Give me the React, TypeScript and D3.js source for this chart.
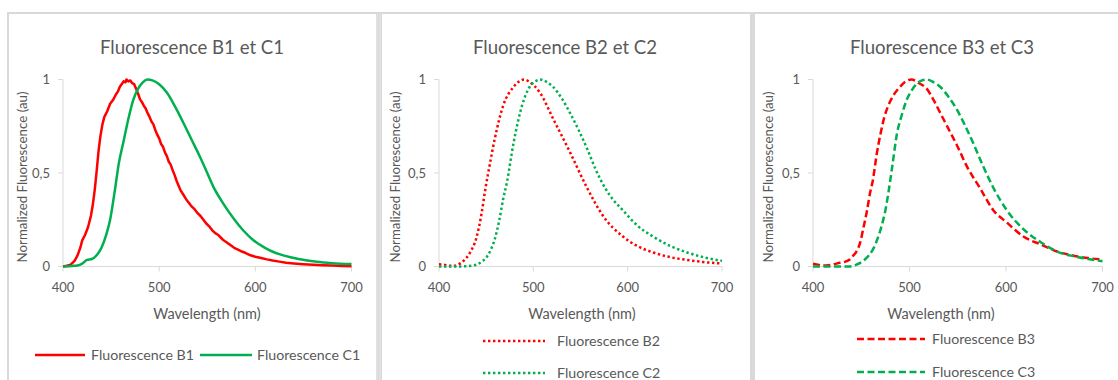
import React from "react";
import * as d3 from "d3";

type Pt = [number, number];

const WAVE_TICKS = [400, 500, 600, 700];
const FLUO_TICKS = [0, 0.5, 1];
const FLUO_TICK_LABELS = ["0", "0,5", "1"];
const X_TITLE = "Wavelength (nm)";
const Y_TITLE = "Normalized Fluorescence (au)";

const TITLES = ["Fluorescence B1 et C1", "Fluorescence B2 et C2", "Fluorescence B3 et C3"];
const SERIES_NAMES = [
  ["Fluorescence B1", "Fluorescence C1"],
  ["Fluorescence B2", "Fluorescence C2"],
  ["Fluorescence B3", "Fluorescence C3"],
];

const B1: Pt[] = [
  [400, 0.0], [404, 0.004], [408, 0.01], [412, 0.03], [415, 0.058], [418, 0.1], [420, 0.14], [423, 0.17],
  [426, 0.21], [429, 0.27], [431, 0.33], [433, 0.41], [435, 0.51], [437, 0.62], [439, 0.7], [441, 0.76],
  [443, 0.8], [446, 0.83], [449, 0.87], [452, 0.89], [455, 0.92], [457, 0.935], [459, 0.96], [461, 0.975],
  [463, 0.99], [465, 0.985], [466, 1.0], [468, 0.99], [470, 0.995], [472, 0.98], [474, 0.975], [476, 0.95],
  [478, 0.925], [480, 0.895], [482, 0.88], [484, 0.86], [486, 0.845], [488, 0.82], [490, 0.8], [492, 0.775],
  [494, 0.76], [496, 0.73], [498, 0.705], [500, 0.685], [502, 0.655], [504, 0.64], [506, 0.61], [508, 0.59],
  [510, 0.56], [512, 0.545], [514, 0.515], [516, 0.49], [518, 0.46], [520, 0.435], [522, 0.41], [525, 0.385],
  [528, 0.36], [531, 0.34], [534, 0.32], [537, 0.305], [540, 0.285], [543, 0.27], [546, 0.25], [549, 0.23],
  [552, 0.215], [555, 0.195], [558, 0.18], [561, 0.17], [564, 0.155], [567, 0.14], [570, 0.13], [574, 0.115],
  [578, 0.1], [582, 0.09], [586, 0.08], [590, 0.072], [595, 0.06], [600, 0.052], [606, 0.045], [612, 0.038],
  [618, 0.032], [625, 0.026], [632, 0.02], [640, 0.016], [650, 0.012], [660, 0.009], [670, 0.007], [680, 0.005],
  [690, 0.003], [700, 0.002],
];

const C1: Pt[] = [
  [400, 0.0], [410, 0.003], [415, 0.005], [420, 0.015], [425, 0.035], [430, 0.04], [435, 0.06], [440, 0.1],
  [445, 0.17], [449, 0.25], [454, 0.41], [458, 0.55], [463, 0.67], [468, 0.79], [473, 0.89], [478, 0.95],
  [483, 0.985], [488, 1.0], [493, 0.995], [500, 0.975], [508, 0.93], [516, 0.86], [525, 0.77], [534, 0.675],
  [543, 0.58], [550, 0.5], [556, 0.43], [565, 0.35], [577, 0.26], [588, 0.19], [598, 0.14], [610, 0.1],
  [620, 0.075], [630, 0.058], [645, 0.04], [664, 0.025], [680, 0.018], [700, 0.013],
];

const B2: Pt[] = [
  [400, 0.012], [405, 0.01], [410, 0.005], [415, 0.003], [420, 0.01], [426, 0.03], [433, 0.075], [440, 0.16],
  [445, 0.28], [449, 0.41], [454, 0.55], [459, 0.68], [468, 0.86], [479, 0.96], [485, 0.99], [490, 1.0],
  [495, 0.99], [507, 0.93], [521, 0.79], [539, 0.61], [557, 0.42], [574, 0.27], [595, 0.16], [610, 0.11],
  [627, 0.075], [645, 0.05], [663, 0.035], [680, 0.024], [700, 0.016],
];

const C2: Pt[] = [
  [400, 0.0], [410, 0.0], [420, 0.0], [430, 0.002], [440, 0.01], [445, 0.025], [450, 0.047], [455, 0.09],
  [459, 0.144], [464, 0.25], [468, 0.36], [472, 0.45], [479, 0.66], [488, 0.86], [496, 0.96], [502, 0.99],
  [507, 1.0], [513, 0.99], [521, 0.96], [530, 0.9], [539, 0.82], [548, 0.73], [557, 0.63], [566, 0.52],
  [576, 0.42], [585, 0.355], [595, 0.3], [610, 0.22], [627, 0.16], [645, 0.11], [663, 0.075], [680, 0.05],
  [700, 0.03],
];

const B3: Pt[] = [
  [400, 0.015], [405, 0.01], [410, 0.005], [414, 0.005], [420, 0.01], [428, 0.02], [433, 0.025], [438, 0.037],
  [442, 0.06], [445, 0.08], [449, 0.13], [452, 0.2], [456, 0.3], [459, 0.39], [462, 0.46], [466, 0.6],
  [470, 0.71], [474, 0.8], [478, 0.86], [484, 0.92], [490, 0.96], [496, 0.99], [502, 1.0], [510, 0.98],
  [518, 0.95], [525, 0.89], [532, 0.82], [540, 0.74], [549, 0.65], [560, 0.53], [573, 0.42], [587, 0.3],
  [601, 0.235], [618, 0.16], [636, 0.118], [653, 0.08], [670, 0.058], [685, 0.045], [700, 0.037],
];

const C3: Pt[] = [
  [400, 0.0], [414, 0.0], [425, 0.0], [438, 0.0], [445, 0.01], [452, 0.03], [458, 0.06], [462, 0.09],
  [467, 0.15], [471, 0.215], [475, 0.3], [478, 0.39], [482, 0.53], [487, 0.71], [492, 0.81], [497, 0.89],
  [502, 0.94], [508, 0.98], [513, 0.995], [518, 1.0], [525, 0.985], [532, 0.96], [540, 0.91], [549, 0.84],
  [557, 0.76], [566, 0.66], [576, 0.54], [587, 0.42], [601, 0.3], [618, 0.2], [636, 0.13], [653, 0.08],
  [670, 0.055], [685, 0.04], [700, 0.028],
];

const DATA: Pt[][][] = [
  [B1, C1],
  [B2, C2],
  [B3, C3],
];

const RED = "#FF0000";
const GREEN = "#00B050";
const TEXT = "#595959";
const AXIS = "#D9D9D9";
const FONT = "Lato, 'Open Sans', sans-serif";

type Layout = {
  left: number;
  x0: number;
  x1: number;
  titleX: number;
  xTitleX: number;
  dash: string;
  legend: [number, number, number, number][];
};

// legend entries: [lineX0, lineX1, textX, y]
const LAYOUTS: Layout[] = [
  {
    left: 8, x0: 63, x1: 351.5, titleX: 192, xTitleX: 207, dash: "none",
    legend: [[35, 85, 91, 355], [200, 252, 257, 355]],
  },
  {
    left: 381, x0: 439, x1: 722, titleX: 565, xTitleX: 582, dash: "2.4 2.6",
    legend: [[483, 545, 557, 341], [483, 545, 557, 373]],
  },
  {
    left: 754, x0: 813, x1: 1102.5, titleX: 942, xTitleX: 941, dash: "7 3.5",
    legend: [[857, 925, 932, 339], [857, 925, 932, 372]],
  },
];

const Y_TOP = 79.5;
const Y_BOT = 266.5;

function Panel({ idx }: { idx: number }) {
  const L = LAYOUTS[idx];
  const x = d3.scaleLinear().domain([400, 700]).range([L.x0, L.x1]);
  const y = d3.scaleLinear().domain([0, 1]).range([Y_BOT, Y_TOP]);
  const mkLine = (curve: d3.CurveFactory) =>
    d3
      .line<Pt>()
      .x((d) => x(d[0]))
      .y((d) => y(d[1]))
      .curve(curve);
  const colors = [RED, GREEN];
  const series = DATA[idx];
  return (
    <g>
      <text x={L.titleX} y={53.5} textAnchor="middle" fontSize={18.6} fill={TEXT} fontFamily={FONT}>
        {TITLES[idx]}
      </text>
      {/* y axis */}
      <line x1={x(400)} x2={x(400)} y1={y(0)} y2={y(1)} stroke={AXIS} strokeWidth={1} />
      {FLUO_TICKS.map((t, i) => (
        <g key={t}>
          <line x1={x(400) - 5} x2={x(400)} y1={y(t)} y2={y(t)} stroke={AXIS} strokeWidth={1} />
          <text x={x(400) - 13} y={y(t) + 4.5} textAnchor="end" fontSize={13} fill={TEXT} fontFamily={FONT}>
            {FLUO_TICK_LABELS[i]}
          </text>
        </g>
      ))}
      {/* x axis */}
      <line x1={x(400)} x2={x(700)} y1={y(0)} y2={y(0)} stroke={AXIS} strokeWidth={1} />
      {WAVE_TICKS.map((t) => (
        <g key={t}>
          <line x1={x(t)} x2={x(t)} y1={y(0)} y2={y(0) + 5} stroke={AXIS} strokeWidth={1} />
          <text x={x(t)} y={292} textAnchor="middle" fontSize={13} fill={TEXT} fontFamily={FONT}>
            {t}
          </text>
        </g>
      ))}
      <text x={L.xTitleX} y={319} textAnchor="middle" fontSize={14.5} fill={TEXT} fontFamily={FONT}>
        {X_TITLE}
      </text>
      <text
        transform={`translate(${L.left + 19},${177}) rotate(-90)`}
        textAnchor="middle"
        fontSize={13.3}
        fill={TEXT}
        fontFamily={FONT}
      >
        {Y_TITLE}
      </text>
      {series.map((s, i) => (
        <path
          key={i}
          d={mkLine(idx === 0 && i === 0 ? d3.curveLinear : d3.curveMonotoneX)(s) || ""}
          fill="none"
          stroke={colors[i]}
          strokeWidth={2.5}
          strokeDasharray={L.dash}
          strokeLinejoin="round"
        />
      ))}
      {L.legend.map((l, i) => (
        <g key={i}>
          <line x1={l[0]} x2={l[1]} y1={l[3]} y2={l[3]} stroke={colors[i]} strokeWidth={2.5} strokeDasharray={L.dash} />
          <text x={l[2]} y={l[3] + 5} fontSize={14.2} fill={TEXT} fontFamily={FONT}>
            {SERIES_NAMES[idx][i]}
          </text>
        </g>
      ))}
    </g>
  );
}

export default function App() {
  return (
    <svg
      width={1118}
      height={380}
      style={{ position: "absolute", left: 0, top: 0, background: "#fff" }}
    >
      <rect x={0} y={0} width={1118} height={380} fill="#fff" />
      <rect x={7} y={12} width={1111} height={368} fill="#D9D9D9" />
      <rect x={9} y={14} width={367} height={366} fill="#fff" />
      <rect x={382} y={14} width={368} height={366} fill="#fff" />
      <rect x={755} y={14} width={363} height={366} fill="#fff" />
      <line x1={377} x2={377} y1={14} y2={380} stroke="#E8E8E8" strokeWidth={1} />
      <line x1={380} x2={380} y1={14} y2={380} stroke="#E8E8E8" strokeWidth={1} />
      {[0, 1, 2].map((i) => (
        <Panel key={i} idx={i} />
      ))}
    </svg>
  );
}
